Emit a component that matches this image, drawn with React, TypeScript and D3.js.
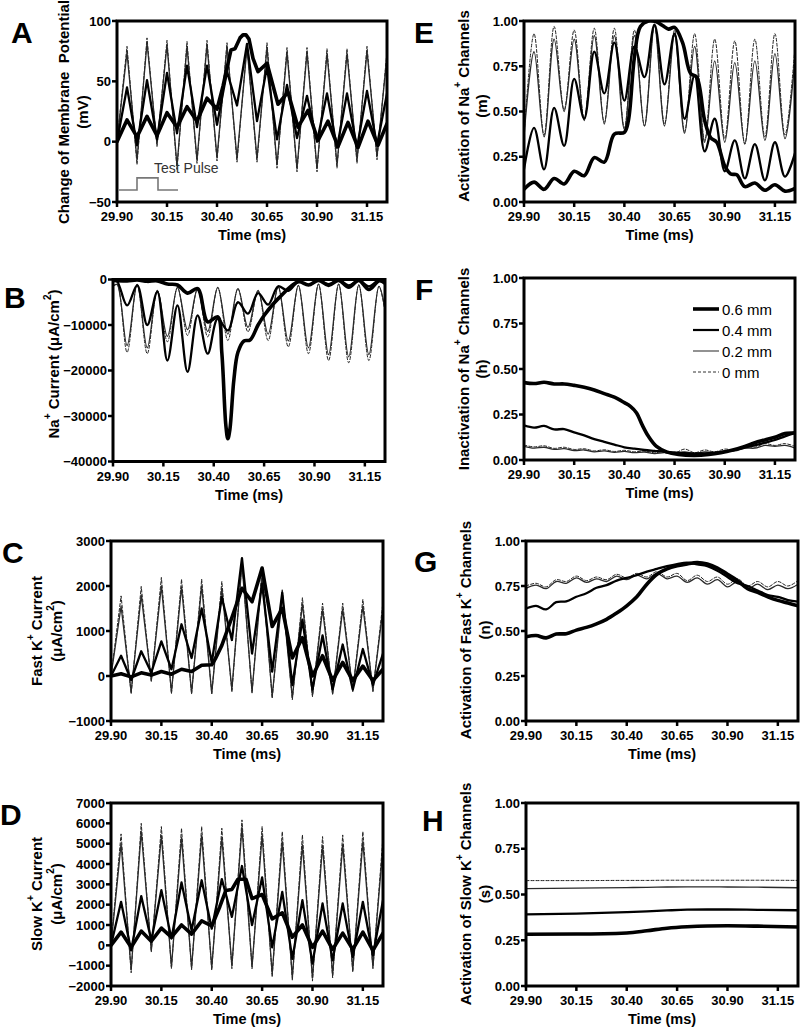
import React from 'react';
import * as d3 from 'd3';

// ---------- shared axis data ----------
const X_DOMAIN: [number, number] = [29.9, 31.25];
const X_TICKS = [29.9, 30.15, 30.4, 30.65, 30.9, 31.15];
const GATE_TICKS = [0, 0.25, 0.5, 0.75, 1];

const TIME = [29.90, 29.95, 30.00, 30.05, 30.10, 30.15, 30.20, 30.25, 30.30, 30.35, 30.40, 30.45, 30.50, 30.55, 30.60, 30.65, 30.70, 30.75, 30.80, 30.85, 30.90, 30.95, 31.00, 31.05, 31.10, 31.15, 31.20, 31.25];

const LEGEND_LABELS = ['0.6 mm', '0.4 mm', '0.2 mm', '0 mm'];

// ---------- A: membrane potential (mV) ----------
const A_0MM = [0, 79, -19, 86, -4, 84, -23, 83, -18, 84, -16, 82, -17, 80, -17, 82, -22, 78, -25, 78, -25, 77, -22, 77, -18, 79, -15, 75];
const A_02MM = [0, 74, -15, 82, -2, 80, -20, 79, -15, 80, -13, 79, -14, 78, -14, 78, -19, 74, -22, 74, -22, 73, -19, 73, -15, 75, -12, 71];
const A_04MM = [0, 45, -3, 51, 2, 57, 7, 63, 12, 63, 14, 58, 30, 81, 17, 62, 2, 47, 3, 38, 0, 40, -5, 40, -5, 42, -3, 40];
const A_06MM_T = [29.90, 29.95, 30.00, 30.05, 30.10, 30.15, 30.20, 30.25, 30.30, 30.35, 30.40, 30.43, 30.47, 30.49, 30.515, 30.53, 30.545, 30.56, 30.58, 30.605, 30.65, 30.705, 30.755, 30.805, 30.855, 30.905, 30.955, 31.005, 31.055, 31.105, 31.155, 31.205, 31.25];
const A_06MM = [0, 18, 4, 21, 5, 24, 12, 29, 17, 36, 27, 46, 76, 77, 86, 88.5, 88.5, 85, 69, 58, 65, 31, 41, 12, 26, 1, 17, -4, 16, -5, 17, -3, 15];
const PULSE_T = [29.91, 30.0, 30.0, 30.105, 30.105, 30.205];
const PULSE_V = [-40, -40, -30, -30, -40, -40];

// ---------- B: Na+ current ----------
const B_T = [29.90, 29.92, 29.97, 30.02, 30.07, 30.12, 30.17, 30.22, 30.27, 30.32, 30.37, 30.42, 30.47, 30.52, 30.57, 30.62, 30.67, 30.72, 30.77, 30.82, 30.87, 30.92, 30.97, 31.02, 31.07, 31.12, 31.17, 31.22, 31.25];
const B_0MM = [-1500, -1000, -16000, -1000, -16300, -2400, -13700, -1700, -12300, -2000, -12600, -1700, -13400, -2000, -11500, -2500, -13400, -1600, -14800, -1300, -16300, -1000, -17800, -1000, -18300, -1200, -17800, -1500, -7000];
const B_02MM = [-1500, -1100, -14500, -1100, -15000, -2400, -12500, -1800, -11000, -2000, -11400, -1800, -12000, -2000, -10500, -2400, -12000, -1600, -13500, -1300, -15000, -1000, -16500, -1000, -17000, -1200, -16500, -1500, -6500];
const B_04MM = [-300, -400, -5700, -1300, -10000, -2700, -17800, -5700, -20300, -7900, -16300, -8600, -11200, -5000, -7500, -3000, -5500, -1500, -2500, -500, -1200, -200, -1000, -100, -1300, -200, -1500, -200, -600];
const B_06MM_T = [29.90, 29.97, 30.02, 30.07, 30.12, 30.17, 30.22, 30.27, 30.32, 30.37, 30.42, 30.44, 30.46, 30.47, 30.48, 30.50, 30.52, 30.55, 30.58, 30.62, 30.65, 30.72, 30.82, 30.87, 30.92, 30.97, 31.02, 31.07, 31.12, 31.17, 31.22, 31.25];
const B_06MM = [-200, -300, -100, -400, -300, -1000, -1200, -3000, -2000, -9300, -8200, -16000, -32000, -35000, -33000, -22000, -16000, -13500, -13300, -10000, -7900, -4200, -500, -1200, -200, -1300, -200, -1700, -200, -2200, -300, -800];

// ---------- C: fast K+ current ----------
const C_0MM = [0, 1780, -400, 1990, -120, 2190, -400, 2150, -400, 2150, -400, 2100, -360, 2550, -380, 2400, -500, 1930, -530, 1740, -460, 1620, -420, 1620, -350, 1700, -350, 1650];
const C_02MM = [0, 1550, -350, 1800, -100, 2000, -350, 1980, -370, 2000, -380, 1950, -300, 2500, -350, 2250, -450, 1780, -480, 1600, -420, 1480, -380, 1480, -320, 1550, -320, 1500];
const C_04MM = [0, 450, -90, 550, 80, 770, 150, 1150, 400, 1500, 300, 1750, 800, 2620, 500, 2050, 100, 1850, -200, 1250, -300, 900, -300, 700, -300, 600, -200, 500];
const C_06MM_T = [29.90, 29.95, 30.00, 30.05, 30.10, 30.15, 30.20, 30.25, 30.30, 30.35, 30.40, 30.42, 30.45, 30.50, 30.55, 30.60, 30.65, 30.70, 30.75, 30.80, 30.85, 30.90, 30.95, 31.00, 31.05, 31.10, 31.15, 31.20, 31.25];
const C_06MM = [0, 50, -20, 70, 20, 100, 40, 150, 100, 240, 250, 400, 680, 1300, 1950, 1650, 2400, 1100, 1500, 400, 850, 0, 450, -100, 300, -100, 220, -100, 150];

// ---------- D: slow K+ current ----------
const D_0MM = [0, 5480, -1350, 6000, -330, 5840, -1150, 5760, -1200, 5840, -1230, 5760, -1150, 6170, -1150, 5840, -1560, 5590, -1730, 5430, -1760, 5350, -1600, 5430, -1320, 5590, -1150, 5350];
const D_02MM = [0, 5000, -1200, 5600, -250, 5400, -1050, 5300, -1100, 5400, -1100, 5300, -1000, 5800, -1050, 5400, -1400, 5100, -1550, 4950, -1600, 4900, -1450, 4950, -1200, 5100, -1050, 4900];
const D_04MM = [0, 2140, -250, 2420, 250, 2710, 330, 3090, 740, 3200, 820, 3260, 1400, 3900, 1000, 3340, -100, 2630, -660, 2220, -900, 2060, -740, 2060, -580, 2140, -500, 2220];
const D_06MM_T = [29.90, 29.95, 30.00, 30.05, 30.10, 30.15, 30.20, 30.25, 30.30, 30.35, 30.40, 30.44, 30.47, 30.50, 30.53, 30.57, 30.60, 30.65, 30.70, 30.75, 30.80, 30.85, 30.90, 30.95, 31.00, 31.05, 31.10, 31.15, 31.20, 31.25];
const D_06MM = [0, 650, -100, 700, 200, 850, 400, 1000, 550, 1200, 950, 1900, 2700, 2750, 3250, 3250, 2300, 2500, 1300, 1600, 400, 1000, -100, 700, -200, 600, -200, 650, -250, 600];

// ---------- E: Na+ activation (m) ----------
const E_0MM = [0.36, 0.93, 0.37, 0.97, 0.51, 0.95, 0.46, 0.96, 0.44, 0.96, 0.41, 0.95, 0.42, 0.98, 0.43, 0.95, 0.39, 0.93, 0.34, 0.90, 0.35, 0.89, 0.32, 0.90, 0.36, 0.93, 0.37, 0.86];
const E_02MM = [0.36, 0.83, 0.36, 0.90, 0.50, 0.90, 0.45, 0.92, 0.43, 0.92, 0.40, 0.92, 0.42, 0.97, 0.42, 0.92, 0.38, 0.86, 0.33, 0.78, 0.33, 0.77, 0.32, 0.78, 0.34, 0.82, 0.35, 0.80];
const E_04MM = [0.18, 0.41, 0.18, 0.52, 0.31, 0.68, 0.46, 0.83, 0.60, 0.88, 0.56, 0.86, 0.69, 0.98, 0.65, 0.93, 0.46, 0.70, 0.28, 0.46, 0.17, 0.34, 0.13, 0.32, 0.12, 0.33, 0.14, 0.27];
const E_06MM_T = [29.90, 29.95, 30.00, 30.05, 30.10, 30.15, 30.20, 30.25, 30.30, 30.35, 30.40, 30.42, 30.45, 30.48, 30.52, 30.56, 30.59, 30.62, 30.65, 30.69, 30.73, 30.76, 30.80, 30.83, 30.86, 30.90, 30.93, 30.96, 31.00, 31.05, 31.10, 31.15, 31.20, 31.25];
const E_06MM = [0.07, 0.11, 0.07, 0.13, 0.10, 0.17, 0.145, 0.245, 0.22, 0.375, 0.385, 0.45, 0.80, 0.97, 1.0, 0.995, 0.975, 0.955, 0.965, 0.88, 0.71, 0.69, 0.45, 0.355, 0.33, 0.20, 0.155, 0.15, 0.085, 0.105, 0.065, 0.095, 0.06, 0.075];

// ---------- F: Na+ inactivation (h) ----------
const F_0MM = [0.082, 0.072, 0.078, 0.064, 0.07, 0.058, 0.062, 0.05, 0.056, 0.047, 0.053, 0.045, 0.05, 0.04, 0.047, 0.038, 0.06, 0.04, 0.055, 0.045, 0.06, 0.055, 0.075, 0.07, 0.09, 0.08, 0.09, 0.075];
const F_02MM = [0.075, 0.065, 0.07, 0.058, 0.062, 0.052, 0.055, 0.045, 0.05, 0.042, 0.047, 0.04, 0.044, 0.035, 0.04, 0.033, 0.045, 0.035, 0.045, 0.04, 0.05, 0.05, 0.065, 0.065, 0.08, 0.075, 0.08, 0.065];
const F_04MM = [0.19, 0.178, 0.187, 0.168, 0.17, 0.152, 0.135, 0.115, 0.10, 0.085, 0.07, 0.062, 0.055, 0.05, 0.045, 0.042, 0.038, 0.036, 0.036, 0.04, 0.046, 0.055, 0.068, 0.08, 0.095, 0.11, 0.13, 0.148];
const F_06MM_T = [29.90, 29.95, 30.00, 30.05, 30.10, 30.15, 30.20, 30.25, 30.30, 30.35, 30.40, 30.43, 30.46, 30.49, 30.52, 30.56, 30.61, 30.67, 30.75, 30.82, 30.88, 30.94, 31.00, 31.05, 31.10, 31.15, 31.20, 31.25];
const F_06MM = [0.425, 0.42, 0.427, 0.418, 0.418, 0.41, 0.40, 0.385, 0.365, 0.345, 0.315, 0.295, 0.26, 0.19, 0.13, 0.075, 0.045, 0.03, 0.025, 0.03, 0.04, 0.055, 0.075, 0.095, 0.11, 0.125, 0.145, 0.15];

// ---------- G: fast K+ activation (n) ----------
const G_0MM = [0.75, 0.765, 0.745, 0.785, 0.775, 0.805, 0.78, 0.80, 0.785, 0.815, 0.795, 0.82, 0.80, 0.83, 0.80, 0.82, 0.78, 0.81, 0.775, 0.80, 0.76, 0.79, 0.75, 0.775, 0.745, 0.775, 0.75, 0.78];
const G_02MM = [0.737, 0.755, 0.735, 0.775, 0.765, 0.795, 0.77, 0.79, 0.775, 0.805, 0.785, 0.81, 0.79, 0.82, 0.79, 0.805, 0.77, 0.795, 0.76, 0.785, 0.745, 0.775, 0.735, 0.76, 0.73, 0.755, 0.735, 0.76];
const G_04MM = [0.625, 0.64, 0.62, 0.66, 0.665, 0.69, 0.71, 0.74, 0.755, 0.78, 0.795, 0.81, 0.83, 0.845, 0.86, 0.872, 0.88, 0.87, 0.86, 0.835, 0.80, 0.765, 0.75, 0.725, 0.70, 0.69, 0.672, 0.663];
const G_06MM = [0.468, 0.475, 0.462, 0.483, 0.485, 0.505, 0.52, 0.54, 0.565, 0.60, 0.64, 0.69, 0.76, 0.815, 0.845, 0.862, 0.873, 0.88, 0.872, 0.85, 0.815, 0.78, 0.735, 0.715, 0.69, 0.67, 0.655, 0.64];

// ---------- H: slow K+ activation (s) ----------
const H_T = [29.90, 30.15, 30.40, 30.50, 30.60, 30.70, 30.80, 30.90, 31.05, 31.25];
const H_0MM = [0.576, 0.576, 0.577, 0.577, 0.578, 0.578, 0.578, 0.578, 0.578, 0.577];
const H_02MM = [0.532, 0.535, 0.538, 0.539, 0.541, 0.542, 0.542, 0.541, 0.54, 0.537];
const H_04MM = [0.391, 0.396, 0.404, 0.408, 0.413, 0.417, 0.418, 0.418, 0.416, 0.414];
const H_06MM = [0.283, 0.284, 0.29, 0.302, 0.316, 0.324, 0.328, 0.329, 0.327, 0.322];

// ---------- styles ----------
const FONT = "'Liberation Sans', Arial, Helvetica, sans-serif";
// index 0: 0 mm, 1: 0.2 mm, 2: 0.4 mm, 3: 0.6 mm
const LINE_STYLES = [
  { stroke: '#222', width: 1, dash: '3,2' },
  { stroke: '#2a2a2a', width: 1.3, dash: undefined },
  { stroke: '#000', width: 2.3, dash: undefined },
  { stroke: '#000', width: 3.6, dash: undefined },
];
const LEGEND_STYLES = [
  { stroke: '#000', width: 3.6, dash: undefined },
  { stroke: '#000', width: 2.2, dash: undefined },
  { stroke: '#777', width: 1.6, dash: undefined },
  { stroke: '#333', width: 1, dash: '3,2' },
];

type Series = { t: number[]; v: number[]; level: number };

// superscript followed by text returning to the baseline
const supThen = (sup: string, rest: string) => (
  <>
    <tspan dy={-6} fontSize={10}>{sup}</tspan>
    <tspan dy={6}>{rest}</tspan>
  </>
);

type PanelProps = {
  id: string;
  left: number; right: number; top: number; bottom: number;
  yDomain: [number, number];
  yTicks: number[];
  yFmt: (v: number) => string;
  series: Series[];
  curve: d3.CurveFactory;
  letter: string; letterX: number; letterY: number;
  titles: { x: number; content: React.ReactNode }[];
  titleY: number;
  children?: (x: d3.ScaleLinear<number, number>, y: d3.ScaleLinear<number, number>) => React.ReactNode;
};

function Panel(p: PanelProps) {
  const x = d3.scaleLinear().domain(X_DOMAIN).range([p.left, p.right]);
  const y = d3.scaleLinear().domain(p.yDomain).range([p.bottom, p.top]);
  const line = d3.line<[number, number]>().x(d => x(d[0])).y(d => y(d[1])).curve(p.curve);
  const cx = (p.left + p.right) / 2;
  return (
    <g>
      <defs>
        <clipPath id={`clip-${p.id}`}>
          <rect x={p.left} y={p.top - 1} width={p.right - p.left} height={p.bottom - p.top + 2} />
        </clipPath>
      </defs>
      <g clipPath={`url(#clip-${p.id})`}>
        {p.series.map((s, i) => {
          const st = LINE_STYLES[s.level];
          const pts = s.t.map((t, k) => [t, s.v[k]] as [number, number]);
          return (
            <path key={i} d={line(pts) || ''} fill="none" stroke={st.stroke} strokeWidth={st.width}
              strokeDasharray={st.dash} strokeLinejoin="round" strokeLinecap="round" />
          );
        })}
      </g>
      {p.children && p.children(x, y)}
      <rect x={p.left} y={p.top} width={p.right - p.left} height={p.bottom - p.top} fill="none" stroke="#000" strokeWidth={3} />
      {p.yTicks.map(v => (
        <g key={`y${v}`}>
          <line x1={p.left - 5} x2={p.left} y1={y(v)} y2={y(v)} stroke="#000" strokeWidth={2.5} />
          <text x={p.left - 6} y={y(v)} textAnchor="end" dominantBaseline="central" fontFamily={FONT} fontWeight="bold" fontSize={13}>{p.yFmt(v)}</text>
        </g>
      ))}
      {X_TICKS.map(v => (
        <g key={`x${v}`}>
          <line x1={x(v)} x2={x(v)} y1={p.bottom} y2={p.bottom + 5} stroke="#000" strokeWidth={2.5} />
          <text x={x(v)} y={p.bottom + 19} textAnchor="middle" fontFamily={FONT} fontWeight="bold" fontSize={13}>{v.toFixed(2)}</text>
        </g>
      ))}
      <text x={cx} y={p.bottom + 38} textAnchor="middle" fontFamily={FONT} fontWeight="bold" fontSize={14.5}>Time (ms)</text>
      {p.titles.map((tl, i) => (
        <text key={i} transform={`translate(${tl.x},${p.titleY}) rotate(-90)`} textAnchor="middle" dominantBaseline="central"
          fontFamily={FONT} fontWeight="bold" fontSize={15}>{tl.content}</text>
      ))}
      <text x={p.letterX} y={p.letterY} fontFamily={FONT} fontWeight="bold" fontSize={30}>{p.letter}</text>
    </g>
  );
}

const intFmt = (v: number) => d3.format('d')(v);
const gateFmt = (v: number) => v.toFixed(2);
const uA = <>(μA/cm{supThen('2', ')')}</>;

export default function App() {
  const S = (t: number[], v: number[], level: number): Series => ({ t, v, level });
  return (
    <svg width={800} height={1029} style={{ position: 'absolute', left: 0, top: 0, background: '#fff' }}>
      <rect x={0} y={0} width={800} height={1029} fill="#fff" />
      {/* A */}
      <Panel id="A" left={117} right={387} top={21} bottom={202} yDomain={[-50, 100]} yTicks={[-50, 0, 50, 100]} yFmt={intFmt}
        series={[S(TIME, A_0MM, 0), S(TIME, A_02MM, 1), S(TIME, A_04MM, 2), S(A_06MM_T, A_06MM, 3)]}
        curve={d3.curveLinear} letter="A" letterX={11} letterY={43}
        titles={[{ x: 63, content: 'Change of Membrane\u00A0 Potential' }, { x: 82, content: '(mV)' }]} titleY={112}>
        {(x, y) => {
          const pl = d3.line<[number, number]>().x(d => x(d[0])).y(d => y(d[1]));
          const pts = PULSE_T.map((t, i) => [t, PULSE_V[i]] as [number, number]);
          return (
            <g>
              <path d={pl(pts) || ''} fill="none" stroke="#777" strokeWidth={1.6} />
              <text x={154} y={173} fontFamily={FONT} fontSize={14} fill="#333">Test Pulse</text>
            </g>
          );
        }}
      </Panel>
      {/* B */}
      <Panel id="B" left={113} right={385} top={279.5} bottom={461.5} yDomain={[-40000, 0]} yTicks={[-40000, -30000, -20000, -10000, 0]} yFmt={intFmt}
        series={[S(B_T, B_0MM, 0), S(B_T, B_02MM, 1), S(B_T, B_04MM, 2), S(B_06MM_T, B_06MM, 3)]}
        curve={d3.curveCatmullRom} letter="B" letterX={4} letterY={308}
        titles={[{ x: 53, content: <>Na{supThen('+', ' Current (μA/cm')}{supThen('2', ')')}</> }]} titleY={364} />
      {/* C */}
      <Panel id="C" left={111} right={383} top={541} bottom={721} yDomain={[-1000, 3000]} yTicks={[-1000, 0, 1000, 2000, 3000]} yFmt={intFmt}
        series={[S(TIME, C_0MM, 0), S(TIME, C_02MM, 1), S(TIME, C_04MM, 2), S(C_06MM_T, C_06MM, 3)]}
        curve={d3.curveLinear} letter="C" letterX={2} letterY={563}
        titles={[{ x: 36, content: <>Fast K{supThen('+', ' Current')}</> }, { x: 56, content: uA }]} titleY={631} />
      {/* D */}
      <Panel id="D" left={111} right={383} top={803} bottom={986} yDomain={[-2000, 7000]} yTicks={[-2000, -1000, 0, 1000, 2000, 3000, 4000, 5000, 6000, 7000]} yFmt={intFmt}
        series={[S(TIME, D_0MM, 0), S(TIME, D_02MM, 1), S(TIME, D_04MM, 2), S(D_06MM_T, D_06MM, 3)]}
        curve={d3.curveLinear} letter="D" letterX={0} letterY={825}
        titles={[{ x: 36, content: <>Slow K{supThen('+', ' Current')}</> }, { x: 56, content: uA }]} titleY={894} />
      {/* E */}
      <Panel id="E" left={524} right={795} top={21} bottom={202} yDomain={[0, 1]} yTicks={GATE_TICKS} yFmt={gateFmt}
        series={[S(TIME, E_0MM, 0), S(TIME, E_02MM, 1), S(TIME, E_04MM, 2), S(E_06MM_T, E_06MM, 3)]}
        curve={d3.curveCatmullRom} letter="E" letterX={414} letterY={43}
        titles={[{ x: 463, content: <>Activation of Na{supThen('+', ' Channels')}</> }, { x: 481, content: '(m)' }]} titleY={106} />
      {/* F */}
      <Panel id="F" left={524} right={795} top={278} bottom={460} yDomain={[0, 1]} yTicks={GATE_TICKS} yFmt={gateFmt}
        series={[S(TIME, F_0MM, 0), S(TIME, F_02MM, 1), S(TIME, F_04MM, 2), S(F_06MM_T, F_06MM, 3)]}
        curve={d3.curveCatmullRom} letter="F" letterX={415} letterY={300}
        titles={[{ x: 463, content: <>Inactivation of Na{supThen('+', ' Channels')}</> }, { x: 481, content: '(h)' }]} titleY={369}>
        {() => (
          <g>
            {LEGEND_LABELS.map((lab, i) => {
              const st = LEGEND_STYLES[i];
              const yy = 309 + i * 21;
              return (
                <g key={lab}>
                  <line x1={693} x2={719} y1={yy} y2={yy} stroke={st.stroke} strokeWidth={st.width} strokeDasharray={st.dash} />
                  <text x={722} y={yy + 5.5} fontFamily={FONT} fontSize={15}>{lab}</text>
                </g>
              );
            })}
          </g>
        )}
      </Panel>
      {/* G */}
      <Panel id="G" left={526} right={798} top={541} bottom={721} yDomain={[0, 1]} yTicks={GATE_TICKS} yFmt={gateFmt}
        series={[S(TIME, G_0MM, 0), S(TIME, G_02MM, 1), S(TIME, G_04MM, 2), S(TIME, G_06MM, 3)]}
        curve={d3.curveCatmullRom} letter="G" letterX={414} letterY={572}
        titles={[{ x: 465, content: <>Activation of Fast K{supThen('+', ' Channels')}</> }, { x: 484, content: '(n)' }]} titleY={630} />
      {/* H */}
      <Panel id="H" left={526} right={798} top={803} bottom={986} yDomain={[0, 1]} yTicks={GATE_TICKS} yFmt={gateFmt}
        series={[S(H_T, H_0MM, 0), S(H_T, H_02MM, 1), S(H_T, H_04MM, 2), S(H_T, H_06MM, 3)]}
        curve={d3.curveMonotoneX} letter="H" letterX={422} letterY={831}
        titles={[{ x: 465, content: <>Activation of Slow K{supThen('+', ' Channels')}</> }, { x: 484, content: '(s)' }]} titleY={894} />
    </svg>
  );
}
